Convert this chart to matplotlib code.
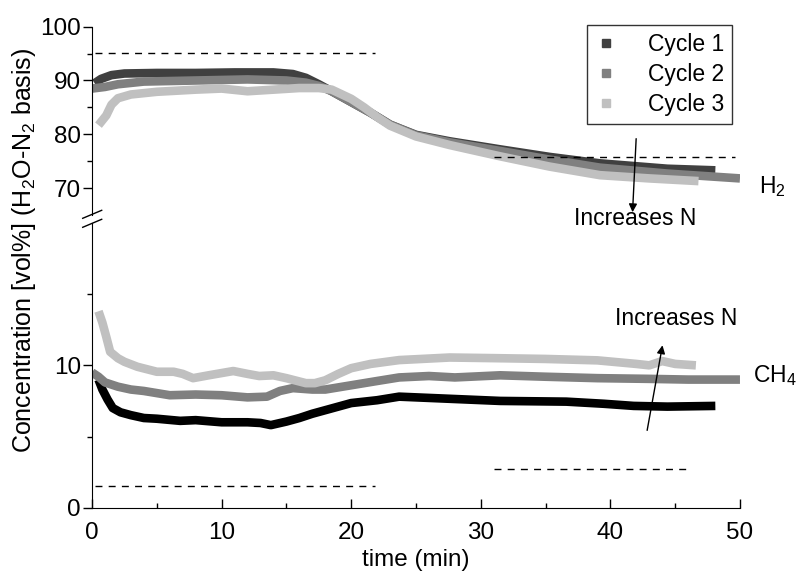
import numpy as np
import matplotlib
matplotlib.use("Agg")
import matplotlib.pyplot as plt
from matplotlib.lines import Line2D

plt.rcParams['font.family'] = ['Liberation Sans', 'DejaVu Sans']
plt.rcParams['mathtext.fontset'] = 'custom'
plt.rcParams['mathtext.rm'] = 'Liberation Sans'

# H2 (upper panel)
h2_t1 = [0.2, 0.7, 1.5, 2.5, 5, 8, 11, 14, 15.5, 16.5, 17.5, 18.5, 20, 21.5, 23, 25, 27.6, 31.5, 35.3, 39.2, 44.4, 48.1]
h2_c1 = [89.5, 90.3, 91.0, 91.3, 91.4, 91.4, 91.5, 91.5, 91.2, 90.5, 89.3, 88.0, 86.0, 84.0, 81.8, 79.9, 78.7, 77.2, 75.8, 74.6, 73.6, 73.3]
h2_t2 = [0, 1, 2, 4, 8, 12, 15, 16.5, 17.5, 18.5, 20, 21.5, 23, 25, 27.6, 31.5, 35.3, 39.2, 44.4, 50]
h2_c2 = [88.5, 88.8, 89.3, 89.8, 90.0, 90.2, 90.0, 89.6, 89.0, 88.0, 86.0, 84.0, 81.8, 79.8, 78.5, 76.9, 75.3, 73.8, 72.7, 71.8]
h2_t3 = [0.5, 1.1, 1.5, 2, 3, 5, 8, 10, 12, 14, 16, 17.5, 18.5, 20, 21, 22, 23, 25, 27.6, 31.5, 35.3, 39.2, 43, 46.8]
h2_c3 = [81.7, 83.5, 85.5, 86.7, 87.4, 87.9, 88.3, 88.5, 88.0, 88.3, 88.6, 88.6, 88.3, 86.6, 85.0, 83.2, 81.6, 79.6, 78.0, 75.9, 74.0, 72.4, 71.8, 71.3]

# CH4 (lower panel)
ch4_t1 = [0.5, 0.8, 1.2, 1.6, 2.2, 3, 4, 5, 6.8, 8, 10, 12, 13, 13.8, 15, 16, 17, 18.6, 20, 22, 23.7, 26.3, 31.5, 36.6, 39.5, 41.8, 44.4, 48.1]
ch4_c1 = [9.0, 8.3, 7.6, 7.0, 6.7, 6.5, 6.3, 6.25, 6.1, 6.15, 6.0, 6.0, 5.95, 5.8, 6.05, 6.3, 6.6, 7.0, 7.35, 7.55, 7.8, 7.7, 7.5, 7.45, 7.3, 7.15, 7.1, 7.15]
ch4_t2 = [0, 0.5, 1, 2, 3, 4, 6, 8, 10, 12, 13.5, 14.5, 15.5, 17, 18, 20, 22, 23.7, 26, 28, 31.5, 35, 39, 43, 46, 50]
ch4_c2 = [9.5, 9.2, 8.8, 8.5, 8.3, 8.2, 7.9, 7.95, 7.9, 7.75, 7.8, 8.2, 8.4, 8.3, 8.3, 8.6, 8.9, 9.15, 9.25, 9.15, 9.3, 9.2, 9.1, 9.05, 9.0, 9.0]
ch4_t3 = [0.5, 0.8, 1.1, 1.4, 2, 2.5, 3.5, 5, 6.3, 7, 7.8, 9, 10.9, 12, 12.9, 14, 15, 16.5, 17.2, 18, 19, 20, 21.5, 23.7, 27.6, 31.5, 35, 39, 42, 43, 44, 45, 46.6]
ch4_c3 = [13.8, 13.0, 12.0, 10.95, 10.5, 10.25, 9.9, 9.55, 9.55, 9.4, 9.1, 9.3, 9.6, 9.4, 9.25, 9.3, 9.1, 8.75, 8.75, 8.95, 9.4, 9.8, 10.1, 10.37, 10.55, 10.5, 10.45, 10.35, 10.1, 10.0, 10.3, 10.1, 10.0]

# dashed reference levels: (t_start, t_end, value)
h2_refs = [(0.2, 21.8, 95.2), (31.0, 49.6, 75.8)]
ch4_refs = [(0.2, 21.8, 1.55), (31.0, 45.8, 2.72)]

labels = ['Cycle 1', 'Cycle 2', 'Cycle 3']
cols_top = ['#404040', '#808080', '#c0c0c0']
cols_bot = ['#000000', '#808080', '#c0c0c0']

fs_tick = 17.5
fs_txt = 16.5

fig = plt.figure(figsize=(7.96, 5.73), dpi=100)
ax_top = fig.add_axes([0.1156, 0.6248, 0.814, 0.3286])
ax_bot = fig.add_axes([0.1156, 0.1140, 0.814, 0.4968])

lw = 6.2
for t, c, col in zip([h2_t1, h2_t2, h2_t3], [h2_c1, h2_c2, h2_c3], cols_top):
    ax_top.plot(t, c, color=col, lw=lw, solid_capstyle='butt', solid_joinstyle='round')
for t, c, col in zip([ch4_t1, ch4_t2, ch4_t3], [ch4_c1, ch4_c2, ch4_c3], cols_bot):
    ax_bot.plot(t, c, color=col, lw=lw, solid_capstyle='butt', solid_joinstyle='round')

for a, b, v in h2_refs:
    ax_top.plot([a, b], [v, v], color='black', lw=1, dashes=(5, 4.5))
for a, b, v in ch4_refs:
    ax_bot.plot([a, b], [v, v], color='black', lw=1, dashes=(5, 4.5))

for ax in (ax_top, ax_bot):
    ax.set_xlim(0, 50)
    ax.spines['top'].set_visible(False)
    ax.spines['right'].set_visible(False)
    ax.tick_params(axis='y', direction='out', length=6.5, width=1, labelsize=fs_tick, pad=1.5)
    ax.tick_params(axis='y', which='minor', direction='out', length=3.5, width=1)
    ax.set_facecolor('none')

ax_top.set_ylim(65, 100)
ax_top.set_yticks([70, 80, 90, 100])
ax_top.set_yticks([75, 85, 95], minor=True)
ax_top.spines['bottom'].set_visible(False)
ax_top.set_xticks([])

ax_bot.set_ylim(0, 20)
ax_bot.set_yticks([0, 10])
ax_bot.set_yticks([5, 15], minor=True)
ax_bot.set_xticks([0, 10, 20, 30, 40, 50])
ax_bot.set_xticks([5, 15, 25, 35, 45], minor=True)
ax_bot.tick_params(axis='x', direction='in', length=6.5, width=1, labelsize=fs_tick, pad=10)
ax_bot.tick_params(axis='x', which='minor', direction='in', length=3.5, width=1)
ax_bot.set_xlabel('time (min)', fontsize=fs_txt + 1, labelpad=4)

# axis break marks
for y0 in (218.3, 227.3):
    fig.add_artist(Line2D([82.7 / 796, 101.7 / 796], [1 - y0 / 573, 1 - (y0 - 8) / 573],
                          color='black', lw=1, transform=fig.transFigure))

fig.text(24 / 796, 1 - 250 / 573, r'Concentration [vol%] (H$\mathregular{_2}$O-N$\mathregular{_2}$ basis)',
         rotation=90, ha='center', va='center', fontsize=18)

ax_top.text(51.5, 70.3, r'H$\mathregular{_2}$', fontsize=fs_txt, ha='left', va='center')
ax_bot.text(51.0, 9.3, r'CH$\mathregular{_4}$', fontsize=fs_txt, ha='left', va='center')

ax_top.annotate('', xy=(41.7, 65.0), xytext=(42.0, 79.7), annotation_clip=False,
                arrowprops=dict(arrowstyle='-|>', color='black', lw=1, mutation_scale=12))
ax_top.text(41.9, 64.3, 'Increases N', fontsize=fs_txt, ha='center', va='center', clip_on=False)
ax_bot.annotate('', xy=(44.06, 11.6), xytext=(42.8, 5.24), annotation_clip=False,
                arrowprops=dict(arrowstyle='-|>', color='black', lw=1, mutation_scale=12))
ax_bot.text(45.1, 13.3, 'Increases N', fontsize=fs_txt, ha='center', va='center')

handles = [Line2D([], [], ls='none', marker='s', markersize=6, color=c) for c in cols_top]
leg = fig.legend(handles, labels, loc='upper right', bbox_to_anchor=(732 / 796, 1 - 25 / 573),
                 fontsize=fs_txt, frameon=True, fancybox=False, edgecolor='black',
                 handlelength=1.0, handletextpad=1.3, labelspacing=0.3, borderpad=0.35,
                 borderaxespad=0)
leg.get_frame().set_linewidth(1)

fig.savefig('out.png', dpi=100)
